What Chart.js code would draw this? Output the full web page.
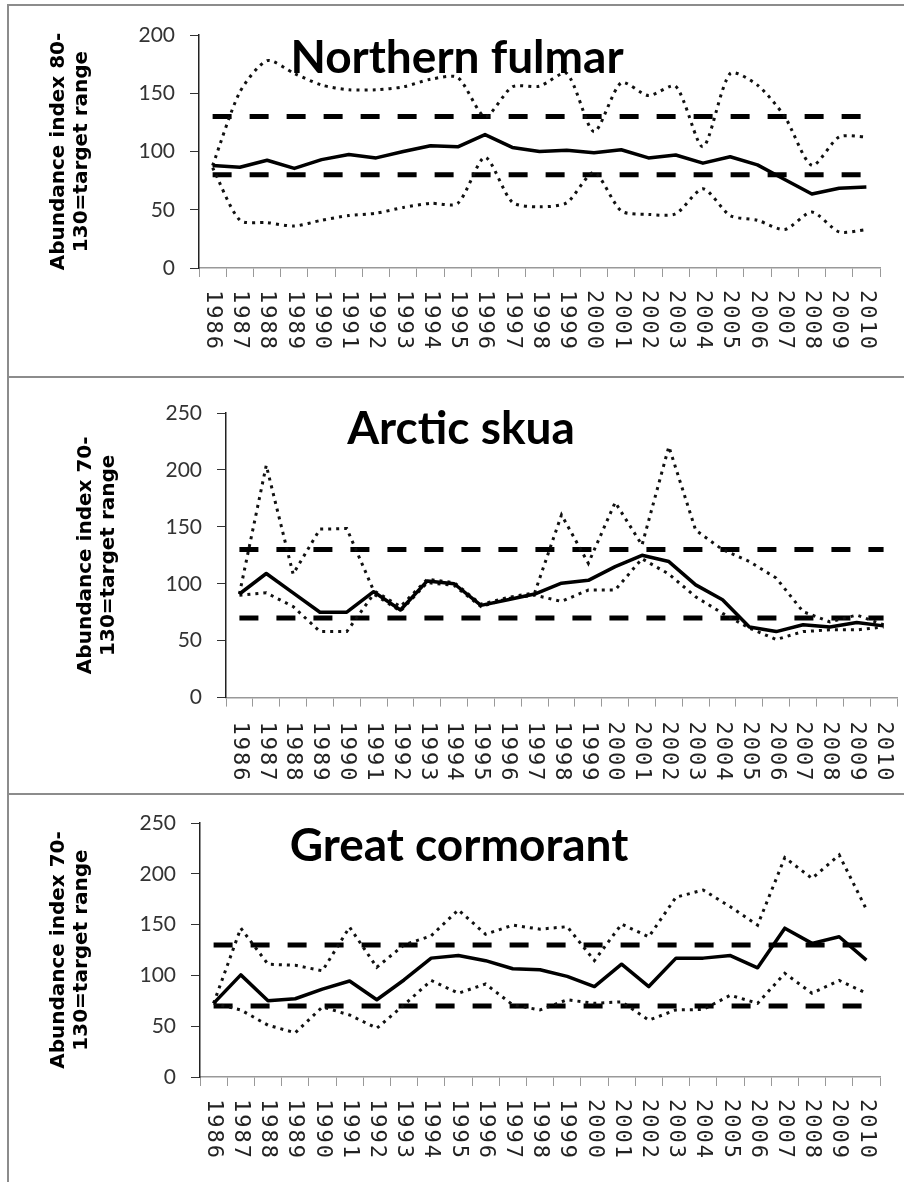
<!DOCTYPE html>
<html>
<head>
<meta charset="utf-8">
<script src="https://cdn.jsdelivr.net/npm/chart.js@4.4.0/dist/chart.umd.min.js"></script>
<style>
  body { margin: 0; background: #fff; }
  #page { position: relative; width: 904px; height: 1182px; overflow: hidden; }
  .panel { position: absolute; left: 7px; right: 0; border-top: 2px solid #8c8c8c; border-left: 2px solid #8c8c8c; }
  .panel canvas { display: block; }
</style>
</head>
<body>
<div id="page">
  <div class="panel" style="top:4px;height:370px;"><canvas id="fulmar" width="895" height="370"></canvas></div>
  <div class="panel" style="top:376px;height:415px;"><canvas id="skua" width="895" height="415"></canvas></div>
  <div class="panel" style="top:793px;height:389px;"><canvas id="cormorant" width="895" height="387"></canvas></div>
</div>
<script>
// years on the x axis
const years = ["1986", "1987", "1988", "1989", "1990", "1991", "1992", "1993", "1994",
  "1995", "1996", "1997", "1998", "1999", "2000", "2001", "2002", "2003", "2004",
  "2005", "2006", "2007", "2008", "2009", "2010"];

// Northern fulmar
const fulmarIndex = [88, 86.5, 92.5, 85.5, 93, 97.5, 94.5, 100, 105, 104, 114.5, 103.5, 100,
  101, 99, 101.5, 94.5, 97, 90, 95.5, 88.5, 76, 63.5, 68.5, 69.5];
const fulmarUpper = [88, 151, 178, 167, 157, 153, 153, 155.5, 162, 163.5, 130, 155.5, 156,
  167, 117, 159, 148, 156, 104, 167, 157, 130, 88, 112.5, 112.5];
const fulmarLower = [86, 41, 39, 36, 41, 45, 47, 52, 55.5, 55.5, 95, 56.5, 52.5,
  56, 82, 49, 46, 46.5, 68, 45, 41, 33, 48, 31, 33];
const fulmarTarget = [80, 130];

// Arctic skua
const skuaIndex = [91, 109, 92, 75, 75, 93, 77, 102.5, 100, 81, 86, 91, 100.5,
  103, 115, 125, 119.5, 99, 86, 62, 58, 64, 62, 66, 63];
const skuaUpper = [91, 204, 108.5, 148, 148.5, 94, 80, 104, 101, 82, 88, 92, 160.5,
  118, 171.5, 134, 220.5, 147, 130, 119.5, 105, 75.5, 66.5, 72.5, 64];
const skuaLower = [90, 92, 80, 58, 58, 91, 76, 101, 98.5, 80, 87, 90, 84.5,
  94.5, 94.5, 122, 108.5, 88.5, 74, 61, 51, 58, 59.5, 59.5, 62];
const skuaTarget = [70, 130];

// Great cormorant
const cormorantIndex = [72.5, 100.5, 75, 77, 86.5, 94.5, 76, 95.5, 117, 119.5, 114.5, 106.5, 105.5,
  99, 89, 111, 89, 117, 117, 119.5, 107.5, 146.5, 131.5, 138, 115];
const cormorantUpper = [72.5, 146.5, 111, 110, 104.5, 147.5, 108, 130, 139, 164.5, 140.5, 149.5, 145.5,
  148, 114.5, 150.5, 138, 177, 184, 167.5, 149.5, 216, 195.5, 218.5, 165];
const cormorantLower = [72.5, 66, 51, 43.5, 69, 61, 48, 71, 95, 82.5, 91.5, 71, 66,
  76, 72.5, 74, 56, 66, 66.5, 80.5, 72.5, 102, 82.5, 95, 82.5];
const cormorantTarget = [70, 130];

// draws the year labels turned clockwise, and the species name inside the plot
const panelText = {
  id: "panelText",
  afterDraw(chart, args, opts) {
    const ctx = chart.ctx;
    const xs = chart.scales.x;
    ctx.save();
    ctx.font = '22px "DejaVu Sans Mono"';
    ctx.letterSpacing = "2px";
    ctx.fillStyle = "#222";
    ctx.textAlign = "left";
    ctx.textBaseline = "middle";
    chart.data.labels.forEach((label, i) => {
      ctx.save();
      ctx.translate(xs.getPixelForTick(i), xs.top + opts.labelGap);
      ctx.rotate(Math.PI / 2);
      ctx.fillText(label, 0, 0);
      ctx.restore();
    });
    ctx.letterSpacing = "0px";
    ctx.font = 'bold 46px Lato';
    ctx.fillStyle = "#000";
    ctx.textAlign = "center";
    ctx.textBaseline = "alphabetic";
    ctx.fillText(opts.name, opts.nameX, opts.nameY);
    ctx.restore();
  }
};

function panel(id, p) {
  const ctx = document.getElementById(id).getContext("2d");
  return new Chart(ctx, {
    type: "line",
    data: {
      labels: years,
      datasets: [
        { data: p.index, borderColor: "#000", borderWidth: 3.5, tension: 0, borderJoinStyle: "round" },
        { data: p.upper, borderColor: "#111", borderWidth: 3, borderDash: [3, 5], tension: p.smooth },
        { data: p.lower, borderColor: "#111", borderWidth: 3, borderDash: [3, 5], tension: p.smooth },
        { data: years.map(() => p.target[1]), borderColor: "#000", borderWidth: 5, borderDash: [19, 18] },
        { data: years.map(() => p.target[0]), borderColor: "#000", borderWidth: 5, borderDash: [19, 18] }
      ]
    },
    options: {
      responsive: false,
      animation: false,
      elements: { point: { radius: 0 } },
      layout: { padding: { left: 0, right: p.right, top: p.top, bottom: 0 } },
      plugins: {
        legend: { display: false },
        tooltip: { enabled: false },
        panelText: { name: p.name, nameX: p.nameX, nameY: p.nameY, labelGap: p.labelGap }
      },
      scales: {
        x: {
          offset: true,
          grid: { offset: true, drawOnChartArea: false, drawTicks: true, tickLength: 9, color: "#999" },
          border: { color: "#999", width: 1.5 },
          ticks: { display: false },
          afterFit: (s) => { s.height = p.xHeight; }
        },
        y: {
          min: 0,
          max: p.max,
          ticks: { stepSize: 50, padding: 15, color: "#333", font: { family: "'Liberation Sans Narrow', Lato", size: 21 } },
          grid: { drawOnChartArea: false, drawTicks: true, tickLength: 9, color: "#333" },
          border: { color: "#222", width: 1.5 },
          title: {
            display: true,
            text: p.yTitle,
            color: "#000",
            font: { family: "DejaVu Sans", weight: "bold", size: 20, lineHeight: 1.15 },
            padding: { top: p.titlePad, bottom: 0 }
          },
          afterFit: (s) => { s.width = p.yWidth; }
        }
      }
    },
    plugins: [panelText]
  });
}

panel("fulmar", {
  index: fulmarIndex, upper: fulmarUpper, lower: fulmarLower, target: fulmarTarget, smooth: 0.25,
  max: 200, name: "Northern fulmar", nameX: 448, nameY: 67,
  yTitle: ["Abundance index 80-", "130=target range"],
  yWidth: 190, right: 24, top: 29, xHeight: 108, titlePad: 38, labelGap: 22
});
panel("skua", {
  index: skuaIndex, upper: skuaUpper, lower: skuaLower, target: skuaTarget, smooth: 0,
  max: 250, name: "Arctic skua", nameX: 452, nameY: 66,
  yTitle: ["Abundance index 70-", "130=target range"],
  yWidth: 217, right: 7, top: 35, xHeight: 95.4, titlePad: 65, labelGap: 24
});
panel("cormorant", {
  index: cormorantIndex, upper: cormorantUpper, lower: cormorantLower, target: cormorantTarget, smooth: 0,
  max: 250, name: "Great cormorant", nameX: 450, nameY: 66,
  yTitle: ["Abundance index 70-", "130=target range"],
  yWidth: 191, right: 24, top: 28, xHeight: 105, titlePad: 38, labelGap: 22
});
</script>
</body>
</html>
